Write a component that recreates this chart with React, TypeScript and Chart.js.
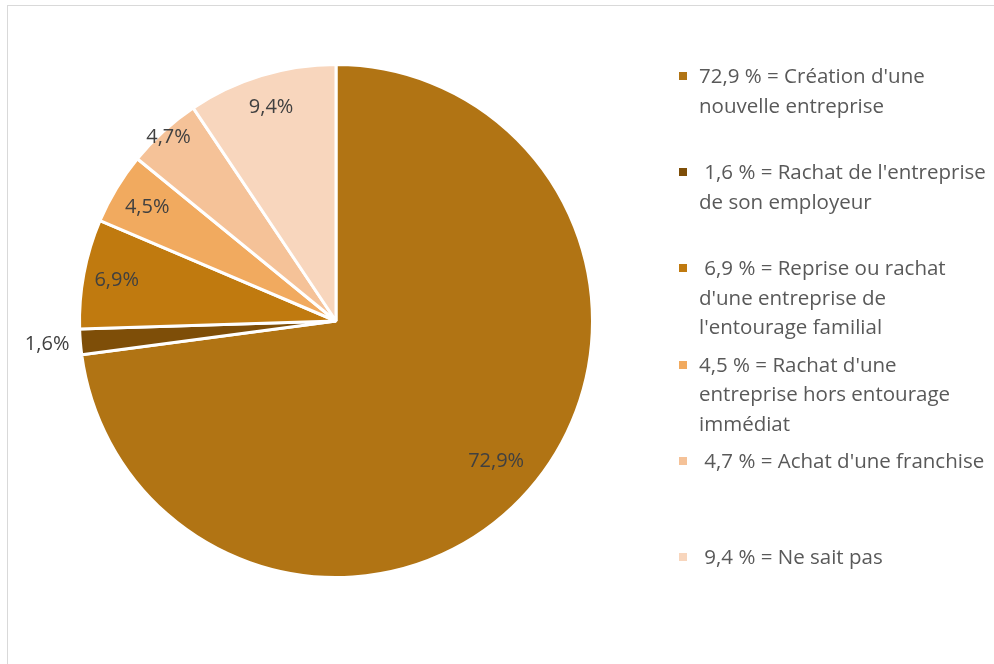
import React, { useEffect, useRef } from "react";
import { Chart, registerables } from "chart.js";

Chart.register(...registerables);

const categories: string[][] = [
  ["72,9 % = Création d'une", "nouvelle entreprise"],
  [" 1,6 % = Rachat de l'entreprise", "de son employeur"],
  [" 6,9 % = Reprise ou rachat", "d'une entreprise de", "l'entourage familial"],
  ["4,5 % = Rachat d'une", "entreprise hors entourage", "immédiat"],
  [" 4,7 % = Achat d'une franchise"],
  [" 9,4 % = Ne sait pas"],
];
const values: number[] = [72.9, 1.6, 6.9, 4.5, 4.7, 9.4];
const dataLabels: string[] = ["72,9%", "1,6%", "6,9%", "4,5%", "4,7%", "9,4%"];
const colors: string[] = ["#B17414", "#7E4E08", "#C07A0F", "#F1AA5F", "#F5C298", "#F8D6BD"];
// radial position of each data label, as a fraction of the radius
const labelRadius: number[] = [0.83, 1.13, 0.87, 0.86, 0.97, 0.87];

const FONT = "'Open Sans', sans-serif";

const labelPlugin = {
  id: "sliceLabels",
  afterDatasetsDraw(chart: any) {
    const { ctx } = chart;
    const meta = chart.getDatasetMeta(0);
    ctx.save();
    ctx.font = `20px ${FONT}`;
    ctx.fillStyle = "#404040";
    ctx.textAlign = "center";
    ctx.textBaseline = "middle";
    meta.data.forEach((arc: any, i: number) => {
      const { x, y, startAngle, endAngle, outerRadius } = arc.getProps(
        ["x", "y", "startAngle", "endAngle", "outerRadius"],
        true
      );
      const mid = (startAngle + endAngle) / 2;
      const r = outerRadius * labelRadius[i];
      ctx.fillText(dataLabels[i], x + Math.cos(mid) * r, y + Math.sin(mid) * r);
    });
    ctx.restore();
  },
};

export default function App() {
  const ref = useRef<HTMLCanvasElement>(null);

  useEffect(() => {
    if (!ref.current) return;
    const chart = new Chart(ref.current, {
      type: "pie",
      data: {
        labels: categories.map((c) => c.join(" ")),
        datasets: [
          {
            data: values,
            backgroundColor: colors,
            borderColor: "#ffffff",
            borderWidth: 3,
          },
        ],
      },
      options: {
        animation: false,
        responsive: false,
        maintainAspectRatio: false,
        layout: { padding: { left: 78, right: 400, top: 63, bottom: 85 } },
        plugins: {
          legend: { display: false },
          tooltip: { enabled: false },
        },
      },
      plugins: [labelPlugin],
    });
    return () => chart.destroy();
  }, []);

  return (
    <div
      style={{
        position: "fixed",
        left: 0,
        top: 0,
        width: 994,
        height: 664,
        overflow: "hidden",
        background: "#fff",
        fontFamily: FONT,
      }}
    >
      <div
        style={{
          position: "absolute",
          left: 7,
          top: 5,
          width: 1010,
          height: 700,
          border: "1px solid #D9D9D9",
          boxSizing: "border-box",
        }}
      />
      <canvas
        ref={ref}
        width={994}
        height={664}
        style={{ position: "absolute", left: 0, top: 0, width: 994, height: 664 }}
      />
      {categories.map((lines, i) => (
        <div
          key={i}
          style={{
            position: "absolute",
            left: 679,
            top: 76 + i * 96.2 - 15,
            display: "flex",
            alignItems: "flex-start",
          }}
        >
          <div
            style={{
              width: 8,
              height: 8,
              background: colors[i],
              marginTop: 11,
              marginRight: 12,
              flexShrink: 0,
            }}
          />
          <div
            style={{
              fontSize: 20.5,
              lineHeight: "29.5px",
              color: "#595959",
              whiteSpace: "pre",
            }}
          >
            {lines.map((l, j) => (
              <div key={j}>{l}</div>
            ))}
          </div>
        </div>
      ))}
    </div>
  );
}
